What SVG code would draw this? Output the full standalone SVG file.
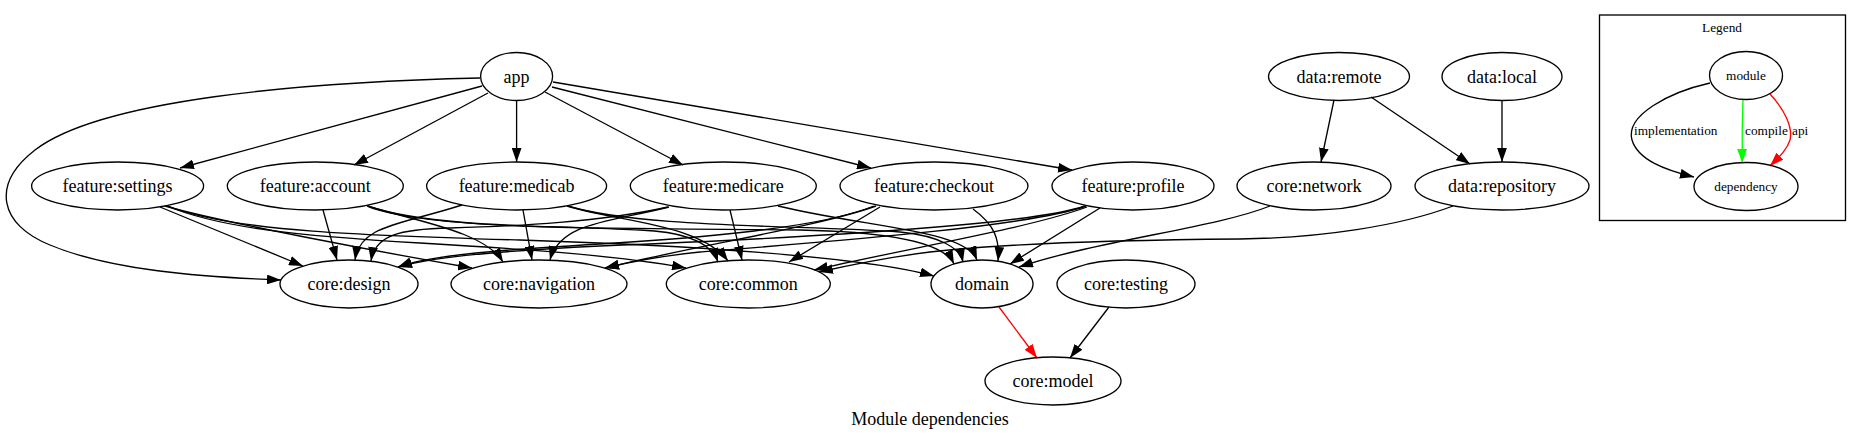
<svg xmlns="http://www.w3.org/2000/svg" width="1862" height="441" viewBox="0 0 1862 441">
<style>
text{font-family:"Liberation Serif","Times New Roman",serif;fill:#000}
.n ellipse{fill:none;stroke:#000;stroke-width:1.33}
.n text{font-size:18px;text-anchor:middle}
.lg text{font-size:13.3px}
.e path{fill:none;stroke:#000;stroke-width:1.33;marker-end:url(#ah)}
.e path.api{stroke:#ff0000;marker-end:url(#ahr)}
.e path.cmp{stroke:#00ff00;marker-end:url(#ahg)}
</style>
<defs>
<marker id="ah" viewBox="0 0 10 7" refX="10" refY="3.5" markerWidth="14" markerHeight="9.8" markerUnits="userSpaceOnUse" orient="auto"><path d="M0,0 L10,3.5 L0,7 z" fill="#000"/></marker>
<marker id="ahr" viewBox="0 0 10 7" refX="10" refY="3.5" markerWidth="14" markerHeight="9.8" markerUnits="userSpaceOnUse" orient="auto"><path d="M0,0 L10,3.5 L0,7 z" fill="#ff0000"/></marker>
<marker id="ahg" viewBox="0 0 10 7" refX="10" refY="3.5" markerWidth="14" markerHeight="9.8" markerUnits="userSpaceOnUse" orient="auto"><path d="M0,0 L10,3.5 L0,7 z" fill="#00ff00"/></marker>
</defs>
<rect width="1862" height="441" fill="#fff"/>

<g id="edges" class="e">
<!-- app -->
<path d="M482,86 L180,168"/>
<path d="M488,93 L354,165"/>
<path d="M516.6,100.5 L516.6,162"/>
<path d="M545,92 L683,165"/>
<path d="M552,87 L871,168"/>
<path d="M553,82 L1072,170"/>
<path d="M480,78 C300,82 100,100 35,150 C-10,185 0,225 50,245 C110,270 200,277 281,280"/>
<!-- data -->
<path d="M1334,100 L1321,162"/>
<path d="M1371,97 L1470,164"/>
<path d="M1502,100 L1502,162"/>
<path d="M1270,206 C1215,228 1100,240 1019,267"/>
<path d="M1453,206 C1400,226 1320,238 1240,239 C1120,240 1000,244 930,252 C890,257 850,265 819,272"/>
<!-- settings -->
<path d="M160,207 L303,266"/>
<path d="M165,206 C220,222 380,252 472,268"/>
<path d="M167,206 C220,228 300,236 420,243 C540,250 620,256 686,268"/>
<path d="M168,206 C230,232 380,236 520,240 C680,245 860,256 934,276"/>
<!-- account -->
<path d="M323,210 L337,260"/>
<path d="M367,206 C420,222 485,232 503,262"/>
<path d="M368,206 C430,228 560,226 640,230 C690,232 712,245 718,262"/>
<path d="M369,207 C430,230 600,228 800,230 C900,232 945,245 954,264"/>
<!-- medicab -->
<path d="M462,205 C400,225 360,225 355,260"/>
<path d="M523,210 L532,260"/>
<path d="M567,206 C620,222 700,224 728,261"/>
<path d="M568,206 C640,228 800,225 900,232 C940,236 960,248 963,262"/>
<!-- medicare -->
<path d="M668,207 C600,222 520,226 450,228 C400,229 375,235 371,261"/>
<path d="M669,207 C610,222 560,222 550,260"/>
<path d="M730,210 L742,260"/>
<path d="M778,206 C870,228 965,230 977,260"/>
<!-- checkout -->
<path d="M880,207 L789,262"/>
<path d="M876,206 C820,226 700,245 605,268"/>
<path d="M874,206 C820,228 700,238 600,244 C500,250 430,255 398,267"/>
<path d="M973,209 C995,225 1000,240 998,261"/>
<!-- profile -->
<path d="M1100,208 L1010,264"/>
<path d="M1087,207 C1030,228 900,250 814,270"/>
<path d="M1086,206 C1030,226 850,240 700,252 C660,256 630,262 605,268"/>
<path d="M1085,206 C1030,225 800,238 600,246 C480,252 430,258 398,267"/>
<!-- model -->
<path class="api" d="M999,307 L1037,358"/>
<path d="M1109,307 L1070,358"/>
</g>

<g id="app" class="n"><ellipse cx="516.6" cy="76.5" rx="36" ry="24"/><text x="516.6" y="82.5">app</text></g>
<g id="data-remote" class="n"><ellipse cx="1339" cy="76.5" rx="70.5" ry="24"/><text x="1339" y="82.5">data:remote</text></g>
<g id="data-local" class="n"><ellipse cx="1502" cy="76.5" rx="60" ry="24"/><text x="1502" y="82.5">data:local</text></g>

<g id="feature-settings" class="n"><ellipse cx="117.6" cy="186" rx="86" ry="24"/><text x="117.6" y="192">feature:settings</text></g>
<g id="feature-account" class="n"><ellipse cx="315.3" cy="186" rx="88" ry="24"/><text x="315.3" y="192">feature:account</text></g>
<g id="feature-medicab" class="n"><ellipse cx="516.6" cy="186" rx="90" ry="24"/><text x="516.6" y="192">feature:medicab</text></g>
<g id="feature-medicare" class="n"><ellipse cx="723.3" cy="186" rx="93" ry="24"/><text x="723.3" y="192">feature:medicare</text></g>
<g id="feature-checkout" class="n"><ellipse cx="934" cy="186" rx="94" ry="24"/><text x="934" y="192">feature:checkout</text></g>
<g id="feature-profile" class="n"><ellipse cx="1133" cy="186" rx="81" ry="24"/><text x="1133" y="192">feature:profile</text></g>
<g id="core-network" class="n"><ellipse cx="1314" cy="186" rx="77" ry="24"/><text x="1314" y="192">core:network</text></g>
<g id="data-repository" class="n"><ellipse cx="1502" cy="186" rx="87" ry="24"/><text x="1502" y="192">data:repository</text></g>

<g id="core-design" class="n"><ellipse cx="349" cy="284" rx="69" ry="24"/><text x="349" y="290">core:design</text></g>
<g id="core-navigation" class="n"><ellipse cx="539" cy="284" rx="88" ry="24"/><text x="539" y="290">core:navigation</text></g>
<g id="core-common" class="n"><ellipse cx="748.3" cy="284" rx="82" ry="24"/><text x="748.3" y="290">core:common</text></g>
<g id="domain" class="n"><ellipse cx="982" cy="284" rx="51" ry="24"/><text x="982" y="290">domain</text></g>
<g id="core-testing" class="n"><ellipse cx="1126" cy="284" rx="69" ry="24"/><text x="1126" y="290">core:testing</text></g>
<g id="core-model" class="n"><ellipse cx="1053" cy="381" rx="68" ry="24"/><text x="1053" y="387">core:model</text></g>

<text id="title" x="930" y="425" font-size="18" text-anchor="middle">Module dependencies</text>

<g id="legend" class="lg">
<rect x="1599.5" y="15" width="246" height="205.5" fill="none" stroke="#000" stroke-width="1.33"/>
<text x="1722" y="32" text-anchor="middle">Legend</text>
<g class="e">
<path d="M1710,83 C1670,92 1625,115 1632,140 C1638,160 1665,170 1694,177"/>
<path class="cmp" d="M1743,99.5 C1742,125 1742,145 1742.3,163"/>
<path class="api" d="M1770,94 C1785,110 1793,128 1790,140 C1787,150 1778,158 1770,166"/>
</g>
<text x="1634" y="135">implementation</text>
<text x="1745" y="135">compile</text>
<text x="1792" y="135">api</text>
<g id="legend-module" class="n"><ellipse cx="1746" cy="75.5" rx="36.5" ry="24"/><text x="1746" y="80" style="font-size:13.3px">module</text></g>
<g id="legend-dependency" class="n"><ellipse cx="1746" cy="186.5" rx="52" ry="24"/><text x="1746" y="191" style="font-size:13.3px">dependency</text></g>
</g>
</svg>
